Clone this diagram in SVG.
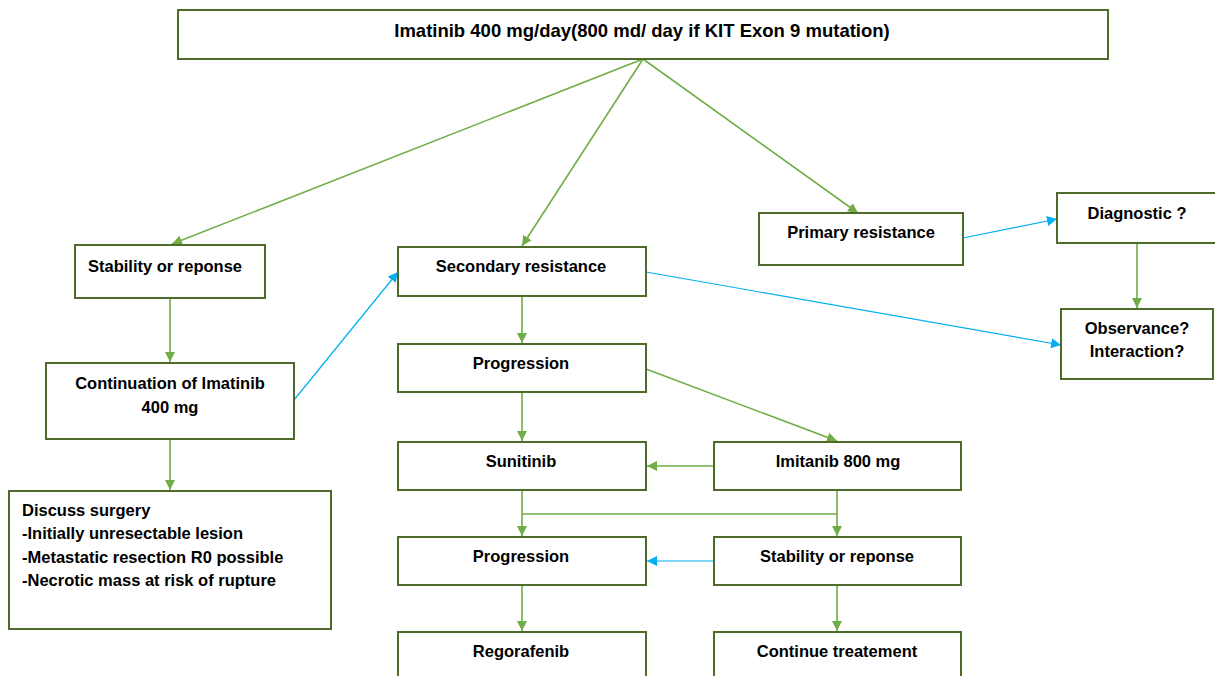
<svg xmlns="http://www.w3.org/2000/svg" width="1215" height="676" viewBox="0 0 1215 676">
<style>
.box{fill:#fff;stroke:#4e6b2c;stroke-width:2}
.t{font-family:"Liberation Sans",Arial,sans-serif;font-weight:bold;font-size:16.5px;fill:#000;text-anchor:middle}
.tl{font-family:"Liberation Sans",Arial,sans-serif;font-weight:bold;font-size:16.5px;fill:#000}
.g{stroke:#70ad47;stroke-width:1.6;fill:none;marker-end:url(#ag)}
.gn{stroke:#70ad47;stroke-width:1.6;fill:none}
.b{stroke:#00b0f0;stroke-width:1.2;fill:none;marker-end:url(#ab)}
</style>
<defs>
<marker id="ag" viewBox="0 0 10 10" refX="10" refY="5" markerWidth="10" markerHeight="10" markerUnits="userSpaceOnUse" orient="auto"><path d="M0,0 L10,5 L0,10 z" fill="#70ad47"/></marker>
<marker id="ab" viewBox="0 0 10 10" refX="10" refY="5" markerWidth="10" markerHeight="10" markerUnits="userSpaceOnUse" orient="auto"><path d="M0,0 L10,5 L0,10 z" fill="#00b0f0"/></marker>
</defs>
<rect width="1215" height="676" fill="#fff"/>
<g id="connectors">
<path class="g" d="M643,59 L172,244"/>
<path class="g" d="M643,59 L522,246"/>
<path class="g" d="M643,59 L858,213"/>
<path class="g" d="M170,298 L170,362"/>
<path class="g" d="M170,439 L170,490"/>
<path class="b" d="M294,400 L398,272"/>
<path class="b" d="M646,272 L1061,345"/>
<path class="b" d="M963,238 L1057,219"/>
<path class="g" d="M1137,243 L1137,308"/>
<path class="g" d="M522,296 L522,343"/>
<path class="g" d="M522,392 L522,441"/>
<path class="g" d="M646,369 L837,441"/>
<path class="g" d="M714,466 L647,466"/>
<path class="gn" d="M522,514 L837,514"/>
<path class="g" d="M522,490 L522,536"/>
<path class="g" d="M837,490 L837,536"/>
<path class="b" d="M714,561 L647,561"/>
<path class="g" d="M522,585 L522,631"/>
<path class="g" d="M837,585 L837,631"/>
</g>
<g id="n-top"><rect class="box" x="178" y="10" width="930" height="49"/><text class="t" x="642" y="37" style="font-size:18.5px">Imatinib 400 mg/day(800 md/ day if KIT Exon 9 mutation)</text></g>
<g id="n-stab1"><rect class="box" x="75" y="245" width="190" height="53"/><text class="t" x="165" y="272">Stability or reponse</text></g>
<g id="n-cont"><rect class="box" x="46" y="363" width="248" height="76"/><text class="t" x="170" y="389">Continuation of Imatinib</text><text class="t" x="170" y="413">400 mg</text></g>
<g id="n-surg"><rect class="box" x="9" y="491" width="322" height="138"/><text class="tl" x="22" y="516">Discuss surgery</text><text class="tl" x="22" y="539">-Initially unresectable lesion</text><text class="tl" x="22" y="563">-Metastatic resection R0 possible</text><text class="tl" x="22" y="586">-Necrotic mass at risk of rupture</text></g>
<g id="n-sec"><rect class="box" x="398" y="247" width="248" height="49"/><text class="t" x="521" y="272">Secondary resistance</text></g>
<g id="n-prog1"><rect class="box" x="398" y="344" width="248" height="48"/><text class="t" x="521" y="369">Progression</text></g>
<g id="n-suni"><rect class="box" x="398" y="442" width="248" height="48"/><text class="t" x="521" y="467">Sunitinib</text></g>
<g id="n-imi800"><rect class="box" x="714" y="442" width="247" height="48"/><text class="t" x="838" y="467">Imitanib 800 mg</text></g>
<g id="n-prog2"><rect class="box" x="398" y="537" width="248" height="48"/><text class="t" x="521" y="562">Progression</text></g>
<g id="n-stab2"><rect class="box" x="714" y="537" width="247" height="48"/><text class="t" x="837" y="562">Stability or reponse</text></g>
<g id="n-rego"><rect class="box" x="398" y="632" width="248" height="48"/><text class="t" x="521" y="657">Regorafenib</text></g>
<g id="n-conttr"><rect class="box" x="714" y="632" width="247" height="48"/><text class="t" x="837" y="657">Continue treatement</text></g>
<g id="n-prim"><rect class="box" x="759" y="213" width="204" height="52"/><text class="t" x="861" y="238">Primary resistance</text></g>
<g id="n-diag"><rect class="box" x="1057" y="193" width="160" height="50"/><text class="t" x="1137" y="219">Diagnostic ?</text></g>
<g id="n-obs"><rect class="box" x="1061" y="309" width="152" height="70"/><text class="t" x="1137" y="334">Observance?</text><text class="t" x="1137" y="357">Interaction?</text></g>
</svg>
